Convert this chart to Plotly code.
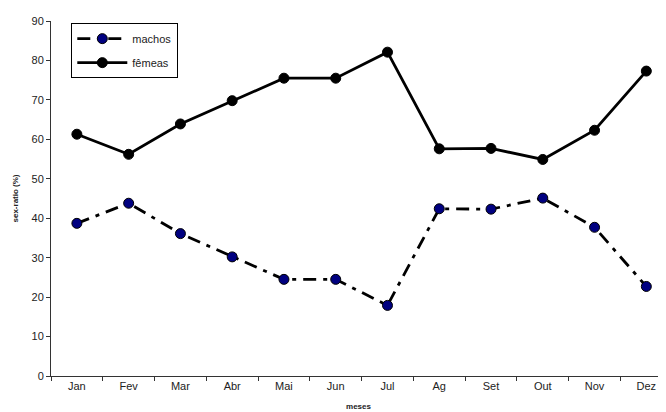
import plotly.graph_objects as go

meses = ["Jan", "Fev", "Mar", "Abr", "Mai", "Jun", "Jul", "Ag", "Set", "Out", "Nov", "Dez"]
machos = [38.7, 43.8, 36.1, 30.2, 24.5, 24.5, 17.9, 42.4, 42.3, 45.1, 37.7, 22.7]
femeas = [61.3, 56.2, 63.9, 69.8, 75.5, 75.5, 82.1, 57.6, 57.7, 54.9, 62.3, 77.3]
yticks = [0, 10, 20, 30, 40, 50, 60, 70, 80, 90]

fig = go.Figure()
fig.add_trace(go.Scatter(
    x=meses, y=machos, name="machos", mode="lines+markers", legendgroup="m",
    line=dict(color="black", width=2.8, dash="13px,7px,4px,7px"),
    marker=dict(size=10, color="#000080", line=dict(color="black", width=1)),
))
fig.add_trace(go.Scatter(
    x=meses, y=femeas, name="fêmeas", mode="lines+markers", legendgroup="f",
    line=dict(color="black", width=2.8),
    marker=dict(size=10, color="black", line=dict(color="black", width=1)),
))

fig.update_layout(
    width=658, height=404,
    margin=dict(l=43, r=0, t=13, b=36, autoexpand=False),
    paper_bgcolor="white", plot_bgcolor="white",
    font=dict(family="Liberation Sans, Arial, sans-serif", size=11, color="#222"),
    showlegend=True,
    legend=dict(x=0.033, y=0.994, xanchor="left", yanchor="top",
                bordercolor="black", borderwidth=1, bgcolor="white",
                font=dict(size=11, color="#222"), itemwidth=50,
                tracegroupgap=5),
    xaxis=dict(
        type="category", range=[-0.5, 11.38], automargin=False,
        showline=True, linecolor="#333", linewidth=1,
        ticks="outside", ticklen=4, tickcolor="#333", tickson="boundaries",
        showgrid=False, zeroline=False,
        tickfont=dict(size=11),
        title=dict(text="<b>meses</b>", font=dict(size=8, color="#222"), standoff=12),
    ),
    yaxis=dict(
        range=[0, 90], tickvals=yticks, automargin=False,
        showline=True, linecolor="#333", linewidth=1,
        ticks="outside", ticklen=4, tickcolor="#333",
        showgrid=False, zeroline=False,
        tickfont=dict(size=11),
        title=dict(text="<b>sex-ratio (%)</b>", font=dict(size=8, color="#222"), standoff=11),
    ),
)

fig.write_html("out.html")
